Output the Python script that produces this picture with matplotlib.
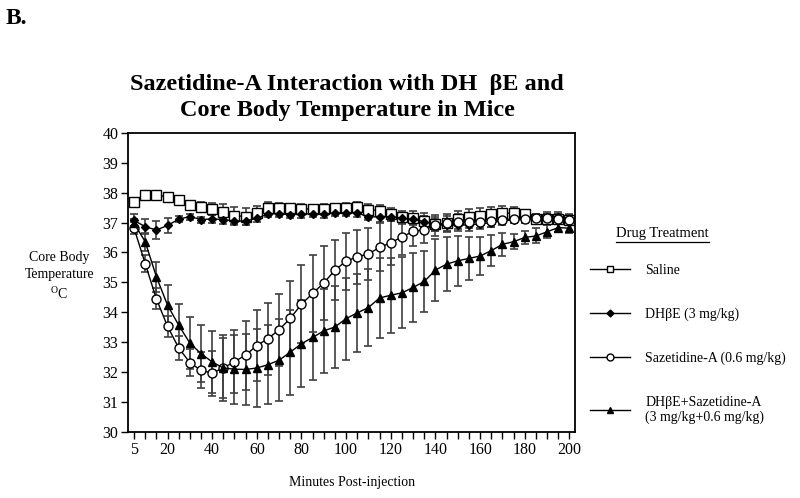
import numpy as np
import matplotlib
matplotlib.use("Agg")
import matplotlib.pyplot as plt
from matplotlib.lines import Line2D

# ── data ────────────────────────────────────────────────────────────────────
minutes = [5, 10, 15, 20, 25, 30, 35, 40, 45, 50,
           55, 60, 65, 70, 75, 80, 85, 90, 95, 100,
           105, 110, 115, 120, 125, 130, 135, 140, 145, 150,
           155, 160, 165, 170, 175, 180, 185, 190, 195, 200]

saline = [37.69, 37.93, 37.93, 37.85, 37.76, 37.58, 37.52, 37.44, 37.36, 37.23,
          37.20, 37.33, 37.49, 37.50, 37.48, 37.46, 37.45, 37.45, 37.48, 37.50,
          37.53, 37.43, 37.40, 37.28, 37.17, 37.16, 37.06, 36.95, 36.97, 37.12,
          37.19, 37.22, 37.28, 37.31, 37.31, 37.27, 37.12, 37.12, 37.12, 37.10]
saline_sem = [0.10, 0.08, 0.08, 0.08, 0.08, 0.10, 0.15, 0.20, 0.25, 0.28,
              0.30, 0.22, 0.20, 0.15, 0.15, 0.15, 0.15, 0.17, 0.15, 0.15,
              0.15, 0.20, 0.20, 0.22, 0.22, 0.22, 0.25, 0.25, 0.25, 0.25,
              0.25, 0.25, 0.25, 0.25, 0.20, 0.15, 0.15, 0.15, 0.15, 0.20]

dhbe = [37.07, 36.86, 36.75, 36.90, 37.11, 37.20, 37.10, 37.12, 37.10, 37.05,
        37.05, 37.14, 37.29, 37.29, 37.26, 37.28, 37.29, 37.28, 37.32, 37.33,
        37.31, 37.20, 37.18, 37.20, 37.14, 37.11, 37.03, 36.92, 36.91, 36.91,
        36.92, 36.95, 37.00, 37.05, 37.09, 37.11, 37.14, 37.20, 37.20, 37.13]
dhbe_sem = [0.20, 0.25, 0.30, 0.25, 0.10, 0.10, 0.10, 0.12, 0.15, 0.15,
            0.15, 0.12, 0.10, 0.10, 0.10, 0.12, 0.12, 0.12, 0.10, 0.10,
            0.12, 0.12, 0.15, 0.15, 0.15, 0.18, 0.20, 0.20, 0.20, 0.20,
            0.20, 0.18, 0.15, 0.15, 0.12, 0.12, 0.12, 0.15, 0.15, 0.12]

saz = [36.81, 35.63, 34.45, 33.53, 32.81, 32.32, 32.06, 31.97, 32.14, 32.35,
       32.57, 32.89, 33.12, 33.42, 33.80, 34.27, 34.63, 34.98, 35.41, 35.71,
       35.85, 35.95, 36.17, 36.32, 36.52, 36.70, 36.76, 36.90, 36.97, 37.02,
       37.02, 37.03, 37.05, 37.10, 37.12, 37.13, 37.15, 37.15, 37.12, 37.10]
saz_sem = [0.20, 0.30, 0.35, 0.35, 0.40, 0.45, 0.60, 0.75, 1.00, 1.05,
           1.15, 1.20, 1.20, 1.20, 1.25, 1.30, 1.30, 1.25, 1.00, 0.95,
           0.90, 0.88, 0.80, 0.75, 0.60, 0.50, 0.45, 0.35, 0.30, 0.25,
           0.20, 0.20, 0.20, 0.15, 0.15, 0.15, 0.15, 0.15, 0.15, 0.15]

combo = [36.97, 36.36, 35.19, 34.24, 33.57, 32.97, 32.62, 32.34, 32.14, 32.10,
         32.09, 32.14, 32.25, 32.40, 32.67, 32.95, 33.16, 33.38, 33.51, 33.79,
         33.98, 34.16, 34.48, 34.57, 34.65, 34.83, 35.03, 35.41, 35.61, 35.72,
         35.80, 35.88, 36.06, 36.27, 36.36, 36.50, 36.55, 36.69, 36.83, 36.81]
combo_sem = [0.15, 0.30, 0.50, 0.67, 0.70, 0.86, 0.95, 1.04, 1.10, 1.15,
             1.20, 1.29, 1.33, 1.37, 1.42, 1.45, 1.43, 1.41, 1.36, 1.37,
             1.29, 1.30, 1.34, 1.25, 1.19, 1.15, 1.03, 1.03, 0.90, 0.84,
             0.72, 0.64, 0.52, 0.39, 0.26, 0.22, 0.25, 0.22, 0.15, 0.15]

labels = ["Saline", "DH\u03b2E (3 mg/kg)", "Sazetidine-A (0.6 mg/kg)",
          "DH\u03b2E+Sazetidine-A\n(3 mg/kg+0.6 mg/kg)"]

xtick_vals = [5, 20, 40, 60, 80, 100, 120, 140, 160, 180, 200]

# ── style ───────────────────────────────────────────────────────────────────
plt.rcParams['font.family'] = ['Liberation Serif', 'DejaVu Serif']
plt.rcParams['mathtext.fontset'] = 'custom'
plt.rcParams['mathtext.rm'] = 'Liberation Serif'

fig = plt.figure(figsize=(8.0, 4.98), dpi=100)
ax = fig.add_axes([0.16, 0.1325, 0.559, 0.601])

series = [
    (saline, saline_sem, dict(marker='s', markersize=6.5, markerfacecolor='white')),
    (dhbe, dhbe_sem, dict(marker='D', markersize=4.3, markerfacecolor='black')),
    (saz, saz_sem, dict(marker='o', markersize=6.5, markerfacecolor='white')),
    (combo, combo_sem, dict(marker='^', markersize=6, markerfacecolor='black')),
]

for (y, err, mk) in series:
    ax.errorbar(minutes, y, yerr=err, fmt='none', ecolor='0.25',
                elinewidth=1.2, capsize=3.2, capthick=1.2, zorder=2)
for (y, err, mk), lab in zip(series, labels):
    ax.plot(minutes, y, color='black', linewidth=1.0,
            markeredgecolor='black', markeredgewidth=1.0, zorder=3, label=lab, **mk)

# ── axes formatting ─────────────────────────────────────────────────────────
ax.set_xlim(2.3, 202.6)
ax.set_ylim(30, 40)
ax.set_yticks(range(30, 41))
ax.set_xticks(minutes, minor=True)
ax.set_xticks(xtick_vals)
ax.tick_params(axis='both', direction='out', labelsize=11.5, width=1.0, length=5,
               pad=2)
ax.tick_params(axis='x', which='minor', direction='out', width=1.0, length=5)
for sp in ax.spines.values():
    sp.set_linewidth(1.3)

ax.set_xlabel("Minutes Post-injection", fontsize=10, labelpad=13)

fig.text(0.074, 0.444, "Core Body\nTemperature\n$^{\\mathrm{O}}$C", fontsize=10,
         ha='center', va='center', multialignment='center', linespacing=1.35)

fig.text(0.434, 0.804, "Sazetidine-A Interaction with DH  \u03b2E and\n"
         "Core Body Temperature in Mice", fontsize=17.5, fontweight='bold',
         ha='center', va='center', linespacing=1.36)

fig.text(0.007, 0.962, "B.", fontsize=17, fontweight='bold', ha='left', va='center')

# ── legend ──────────────────────────────────────────────────────────────────
leg_handles = [
    Line2D([0], [0], color='black', lw=1.0, marker='s', markersize=5,
           markerfacecolor='white', markeredgecolor='black'),
    Line2D([0], [0], color='black', lw=1.0, marker='D', markersize=3.5,
           markerfacecolor='black', markeredgecolor='black'),
    Line2D([0], [0], color='black', lw=1.0, marker='o', markersize=5,
           markerfacecolor='white', markeredgecolor='black'),
    Line2D([0], [0], color='black', lw=1.0, marker='^', markersize=5,
           markerfacecolor='black', markeredgecolor='black'),
]
ax.legend(leg_handles, labels, loc='upper left', bbox_to_anchor=(1.02, 0.579),
          frameon=False, fontsize=10, labelspacing=2.2, handlelength=2.9,
          handletextpad=1.1, borderaxespad=0)

fig.text(0.828, 0.532, "Drug Treatment", fontsize=10.5, ha='center', va='center')
fig.add_artist(Line2D([0.77, 0.886], [0.515, 0.515], color='black', lw=0.9))

fig.savefig("out.png", dpi=100)
